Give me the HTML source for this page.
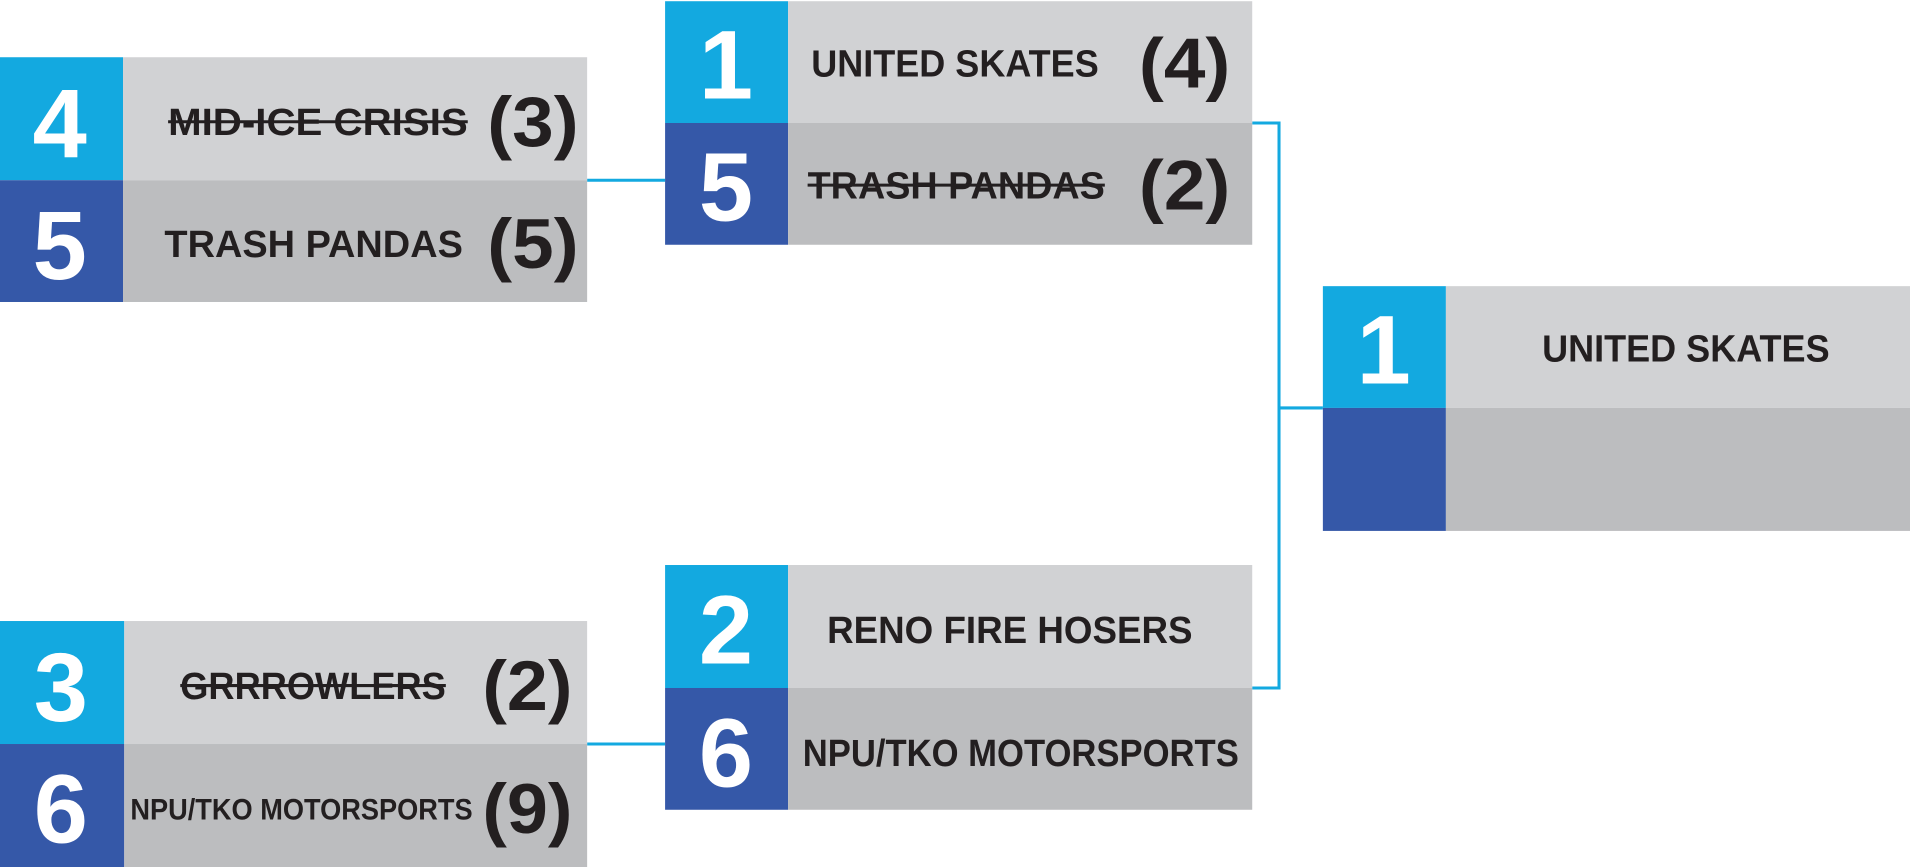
<!DOCTYPE html>
<html><head><meta charset="utf-8"><style>
html,body{margin:0;padding:0;background:#fff;}
svg{display:block;}
text{font-family:"Liberation Sans",sans-serif;font-weight:bold;fill:#231f20;}
.n{fill:#fff;font-size:80px;}
.t{font-size:31px;}
.s{font-size:58px;}
</style></head><body>
<svg width="1910" height="867" viewBox="0 0 1568 712" preserveAspectRatio="none" xmlns="http://www.w3.org/2000/svg">
<g fill="none" stroke="#13a9e0" stroke-width="2.5">
<line x1="482" y1="148" x2="546" y2="148"/>
<line x1="482" y1="611" x2="546" y2="611"/>
<polyline points="1028,101 1050,101 1050,565 1028,565"/>
<line x1="1050" y1="335" x2="1086" y2="335"/>
</g>
<!-- A -->
<rect x="0" y="47" width="101" height="101" fill="#13a9e0"/>
<rect x="0" y="148" width="101" height="100" fill="#3558a8"/>
<rect x="101" y="47" width="381" height="101" fill="#d1d2d4"/>
<rect x="101" y="148" width="381" height="100" fill="#bcbdbf"/>
<!-- B -->
<rect x="546" y="1" width="101" height="100" fill="#13a9e0"/>
<rect x="546" y="101" width="101" height="100" fill="#3558a8"/>
<rect x="647" y="1" width="381" height="100" fill="#d1d2d4"/>
<rect x="647" y="101" width="381" height="100" fill="#bcbdbf"/>
<!-- Final -->
<rect x="1086" y="235" width="101" height="100" fill="#13a9e0"/>
<rect x="1086" y="335" width="101" height="101" fill="#3558a8"/>
<rect x="1187" y="235" width="381" height="100" fill="#d1d2d4"/>
<rect x="1187" y="335" width="381" height="101" fill="#bcbdbf"/>
<!-- C -->
<rect x="546" y="464" width="101" height="101" fill="#13a9e0"/>
<rect x="546" y="565" width="101" height="100" fill="#3558a8"/>
<rect x="647" y="464" width="381" height="101" fill="#d1d2d4"/>
<rect x="647" y="565" width="381" height="100" fill="#bcbdbf"/>
<!-- D -->
<rect x="0" y="510" width="102" height="101" fill="#13a9e0"/>
<rect x="0" y="611" width="102" height="101" fill="#3558a8"/>
<rect x="102" y="510" width="380" height="101" fill="#d1d2d4"/>
<rect x="102" y="611" width="380" height="101" fill="#bcbdbf"/>

<!-- numbers -->
<text class="n" x="49" y="129" text-anchor="middle">4</text>
<text class="n" x="49" y="229" text-anchor="middle">5</text>
<text class="n" x="596" y="81" text-anchor="middle">1</text>
<text class="n" x="596" y="181" text-anchor="middle">5</text>
<text class="n" x="1136" y="315" text-anchor="middle">1</text>
<text class="n" x="596" y="545" text-anchor="middle">2</text>
<text class="n" x="596" y="646" text-anchor="middle">6</text>
<text class="n" x="50" y="592" text-anchor="middle">3</text>
<text class="n" x="50" y="692" text-anchor="middle">6</text>

<!-- names -->
<text class="t" x="138" y="111" textLength="246" lengthAdjust="spacingAndGlyphs">MID-ICE CRISIS</text>
<line x1="138" y1="100" x2="384" y2="100" stroke="#231f20" stroke-width="2.5"/>
<text class="t" x="135" y="211" textLength="245" lengthAdjust="spacingAndGlyphs">TRASH PANDAS</text>
<text class="t" x="666" y="63" textLength="236" lengthAdjust="spacingAndGlyphs">UNITED SKATES</text>
<text class="t" x="663" y="163" textLength="244" lengthAdjust="spacingAndGlyphs">TRASH PANDAS</text>
<line x1="663" y1="152" x2="907" y2="152" stroke="#231f20" stroke-width="2.5"/>
<text class="t" x="1266" y="297" textLength="236" lengthAdjust="spacingAndGlyphs">UNITED SKATES</text>
<text class="t" x="679" y="528" textLength="300" lengthAdjust="spacingAndGlyphs">RENO FIRE HOSERS</text>
<text class="t" x="659" y="629" textLength="358" lengthAdjust="spacingAndGlyphs">NPU/TKO MOTORSPORTS</text>
<text class="t" x="148" y="574" textLength="218" lengthAdjust="spacingAndGlyphs">GRRROWLERS</text>
<line x1="148" y1="563" x2="366" y2="563" stroke="#231f20" stroke-width="2.5"/>
<text style="font-size:24px" x="107" y="673" textLength="281" lengthAdjust="spacingAndGlyphs">NPU/TKO MOTORSPORTS</text>

<!-- scores -->
<text class="s" x="400" y="120" textLength="75" lengthAdjust="spacingAndGlyphs">(3)</text>
<text class="s" x="400" y="220" textLength="75" lengthAdjust="spacingAndGlyphs">(5)</text>
<text class="s" x="935" y="72" textLength="75" lengthAdjust="spacingAndGlyphs">(4)</text>
<text class="s" x="935" y="172" textLength="75" lengthAdjust="spacingAndGlyphs">(2)</text>
<text class="s" x="396" y="583" textLength="74" lengthAdjust="spacingAndGlyphs">(2)</text>
<text class="s" x="396" y="684" textLength="74" lengthAdjust="spacingAndGlyphs">(9)</text>
</svg>
</body></html>
